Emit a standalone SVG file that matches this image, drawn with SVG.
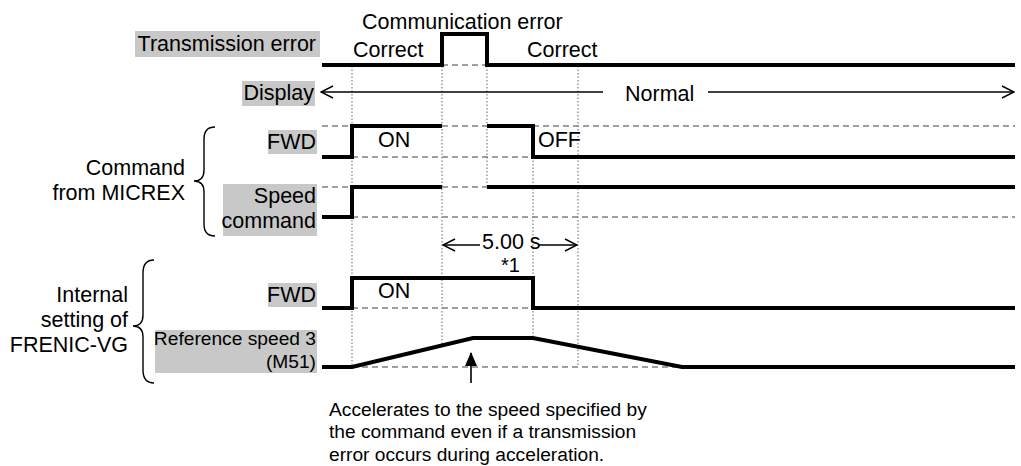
<svg xmlns="http://www.w3.org/2000/svg" width="1021" height="466" viewBox="0 0 1021 466">
<style>
text{font-family:"Liberation Sans",Arial,sans-serif;font-size:21.5px;fill:#000}
.lbl{text-anchor:end}
.sm{font-size:19.2px}
.box{fill:#c8c8c8}
.sig{fill:none;stroke:#000;stroke-width:4;stroke-linejoin:miter}
.dash{fill:none;stroke:#808080;stroke-width:1.5;stroke-dasharray:6,4}
.dot{fill:none;stroke:#808080;stroke-width:1.2;stroke-dasharray:1.5,2}
.thin{fill:none;stroke:#000;stroke-width:1.4}
</style>
<defs>
<marker id="open" viewBox="0 0 14 14" refX="13" refY="7" markerWidth="14" markerHeight="14" markerUnits="userSpaceOnUse" orient="auto">
<path d="M1,1 L13,7 L1,13" fill="none" stroke="#000" stroke-width="1.4"/>
</marker>
<marker id="solid" viewBox="0 0 14 12" refX="13" refY="6" markerWidth="14" markerHeight="12" markerUnits="userSpaceOnUse" orient="auto">
<path d="M0,0 L14,6 L0,12 Z" fill="#000"/>
</marker>
</defs>

<g id="gridlines">
<path class="dot" d="M352,66 V367 M442,66 V345 M487,66 V187 M533,157 V338 M578,66 V367"/>
</g>

<g id="labels">
<g id="lbl-transmission"><rect class="box" x="135" y="31" width="185" height="26"/><text class="lbl" x="316" y="51">Transmission error</text></g>
<g id="lbl-display"><rect class="box" x="242" y="81" width="73" height="25"/><text class="lbl" x="314" y="100">Display</text></g>
<g id="lbl-fwd1"><rect class="box" x="268" y="130" width="49" height="24"/><text class="lbl" x="316" y="149">FWD</text></g>
<g id="lbl-speed"><rect class="box" x="223" y="184" width="94" height="52"/><text class="lbl" x="316" y="203">Speed</text><text class="lbl" x="316" y="228">command</text></g>
<g id="lbl-fwd2"><rect class="box" x="268" y="283" width="49" height="24"/><text class="lbl" x="316" y="302">FWD</text></g>
<g id="lbl-ref"><rect class="box" x="155" y="330" width="162" height="43"/><text class="lbl sm" x="316" y="345">Reference speed 3</text><text class="lbl sm" x="316" y="368">(M51)</text></g>
<g id="grp-micrex"><path class="thin" d="M215,127 Q204,127 204,139 L204,170 Q204,181 194,181 Q204,181 204,192 L204,224 Q204,236 215,236"/><text class="lbl" x="185" y="175">Command</text><text class="lbl" x="185" y="200">from MICREX</text></g>
<g id="grp-frenic"><path class="thin" d="M154,260 Q143,260 143,273 L143,315 Q143,326 133,326 Q143,326 143,337 L143,370 Q143,383 154,383"/><text class="lbl" x="128" y="302">Internal</text><text class="lbl" x="128" y="327">setting of</text><text class="lbl" x="128" y="352">FRENIC-VG</text></g>
</g>

<g id="sig-transmission">
<path class="dash" d="M442,65 H487"/>
<path class="sig" d="M322,65 H442 V34 H487 V65 H1015"/>
<text x="362" y="29">Communication error</text>
<text x="353" y="57">Correct</text>
<text x="527" y="57">Correct</text>
</g>

<g id="sig-display">
<path class="thin" d="M603,92 H321" marker-end="url(#open)"/>
<path class="thin" d="M708,92 H1014" marker-end="url(#open)"/>
<text x="625" y="101">Normal</text>
</g>

<g id="sig-fwd1">
<path class="dash" d="M322,126 H352 M442,126 H487 M533,126 H1015 M352,157 H533"/>
<path class="sig" d="M322,157 H352 V126 H442 M487,126 H533 V157 H1015"/>
<text x="378" y="147">ON</text>
<text x="538" y="147">OFF</text>
</g>

<g id="sig-speed">
<path class="dash" d="M322,187 H352 M442,187 H487 M352,217 H1015"/>
<path class="sig" d="M322,217 H352 V187 H442 M487,187 H1015"/>
</g>

<g id="timer">
<path class="thin" d="M480,245 H443" marker-end="url(#open)"/>
<path class="thin" d="M538,245 H577" marker-end="url(#open)"/>
<text x="482" y="249">5.00 s</text>
<text x="501" y="272" style="font-size:20px">*1</text>
</g>

<g id="sig-fwd2">
<path class="dash" d="M352,308 H533"/>
<path class="sig" d="M322,308 H352 V278 H533 V308 H1015"/>
<text x="378" y="298">ON</text>
</g>

<g id="sig-ref">
<path class="dash" d="M352,367 H682"/>
<path class="sig" d="M322,367 H352 L473,338 H533 L682,367 H1015"/>
</g>

<g id="connectors">
<path d="M471,383 V353" stroke="#000" stroke-width="1.6" fill="none" marker-end="url(#solid)"/>
</g>

<g id="note">
<text class="sm" x="329" y="416">Accelerates to the speed specified by</text>
<text class="sm" x="329" y="438">the command even if a transmission</text>
<text class="sm" x="329" y="461">error occurs during acceleration.</text>
</g>
</svg>
